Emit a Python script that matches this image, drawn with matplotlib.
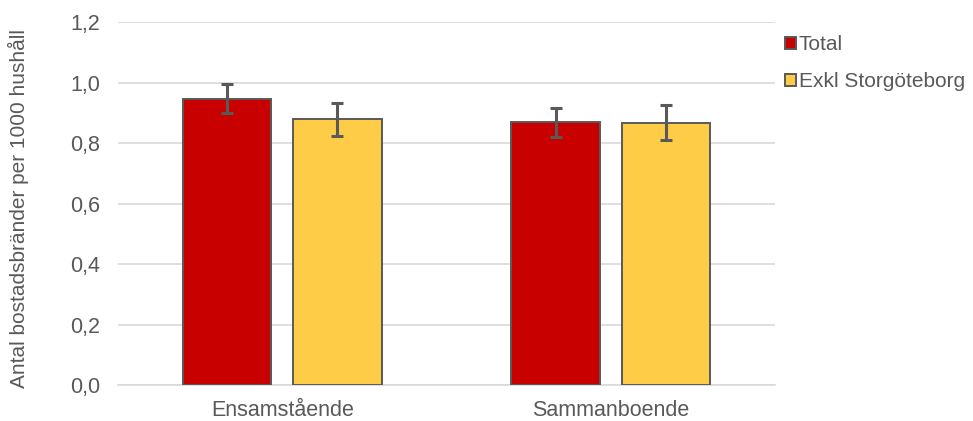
import matplotlib
matplotlib.use("Agg")
import matplotlib.pyplot as plt
import numpy as np

plt.rcParams['font.family'] = ['Liberation Sans', 'DejaVu Sans']

categories = ["Ensamstående", "Sammanboende"]
series_names = ["Total", "Exkl Storgöteborg"]
total = [0.946, 0.868]
total_err = [0.048, 0.049]
exkl = [0.878, 0.867]
exkl_err = [0.054, 0.058]
yticks = [0.0, 0.2, 0.4, 0.6, 0.8, 1.0, 1.2]
ylabel = "Antal bostadsbränder per 1000 hushåll"

text_color = "#595959"
edge = "#595959"
colors = ["#C80000", "#FFCC47"]
fs = 15.5

fig = plt.figure(figsize=(9.73, 4.21), dpi=100)
ax = fig.add_axes([118 / 973, 1 - 385 / 421, (775 - 118) / 973, (385 - 22) / 421])

x = np.arange(len(categories))
w = 0.27
off = 0.168
err_kw = dict(ecolor=edge, elinewidth=2.2, capsize=4.3, capthick=2.2)
ax.bar(x - off, total, w, yerr=total_err, color=colors[0], edgecolor=edge,
       linewidth=1.4, label=series_names[0], error_kw=err_kw, zorder=3)
ax.bar(x + off, exkl, w, yerr=exkl_err, color=colors[1], edgecolor=edge,
       linewidth=1.4, label=series_names[1], error_kw=err_kw, zorder=3)

ax.set_xlim(-0.5, 1.5)
ax.set_ylim(0, 1.2)
ax.set_yticks(yticks)
ax.set_yticklabels([f"{v:.1f}".replace(".", ",") for v in yticks])
ax.set_xticks(x)
ax.set_xticklabels(categories)
ax.tick_params(axis='both', colors=text_color, labelsize=fs, length=0)
ax.tick_params(axis='y', pad=13)
ax.tick_params(axis='x', pad=11)
ax.grid(axis='y', color="#D9D9D9", linewidth=1.2, zorder=0)
for s in ["top", "right", "left"]:
    ax.spines[s].set_visible(False)
ax.spines["bottom"].set_color("#D9D9D9")
ax.spines["bottom"].set_linewidth(1.2)
ax.set_axisbelow(True)

fig.text(18 / 973, 1 - 208 / 421, ylabel, rotation=90, color=text_color,
         fontsize=15, ha="center", va="center")

leg = fig.legend(loc="upper left", bbox_to_anchor=(777 / 973, 1 - 27 / 421),
                 frameon=False, fontsize=15, labelcolor=text_color,
                 handlelength=0.5, handleheight=0.5, handletextpad=0.15,
                 labelspacing=0.85, borderaxespad=0)

fig.savefig("out.png", dpi=100)
